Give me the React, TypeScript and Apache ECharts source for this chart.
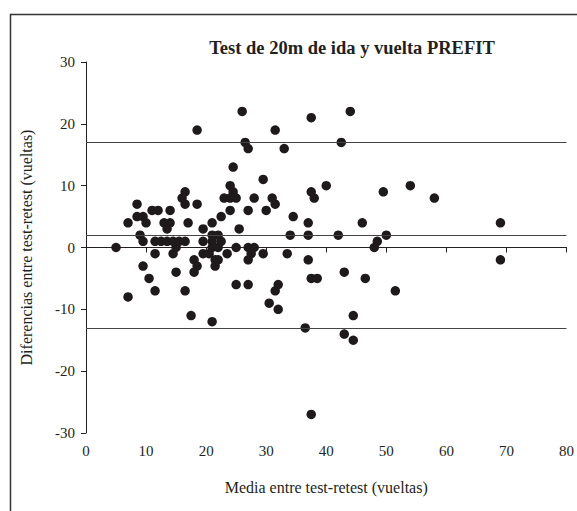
import React, { useEffect, useRef } from "react";
import * as echarts from "echarts";

const titleText = "Test de 20m de ida y vuelta PREFIT";
const xAxisName = "Media entre test-retest (vueltas)";
const yAxisName = "Diferencias entre test-retest (vueltas)";

// mean of test & retest (laps)
const meanValues = [
  5, 7, 7, 8.5, 8.5, 9.5, 10, 9, 9.5, 9.5, 10.5, 11.5, 11, 12, 11.5, 12.5, 13.5, 14.5, 15.5, 16.5,
  11.5, 14.5, 13, 14, 13.5, 14, 15, 15, 16.5, 16.5, 16, 16.5, 17, 18.5, 17.5, 18, 18.5, 18, 18.5,
  19.5, 19.5, 19.5, 20.5, 21, 21, 22, 21, 22.5, 21, 22, 23.5, 21.5, 22, 21.5, 21, 22.5, 23, 24, 25,
  24, 24, 24.5, 24.5, 25.5, 25, 25, 26, 26.5, 27, 27, 27, 28, 27.5, 27, 27, 28, 29.5, 29.5, 30,
  30.5, 31, 31.5, 31.5, 31.5, 32, 32, 33, 33.5, 34, 34.5, 36.5, 37, 37, 37, 37.5, 37.5, 38, 37.5,
  38.5, 37.5, 40, 42, 42.5, 43, 43, 44, 44.5, 44.5, 46, 46.5, 48.5, 48, 49.5, 50, 51.5, 54, 58, 69, 69,
];
// difference retest - test (laps)
const diffValues = [
  0, -8, 4, 7, 5, 5, 4, 2, 1, -3, -5, -7, 6, 6, 1, 1, 1, 1, 1, 1,
  -1, -1, 4, 4, 3, 6, 0, -4, -7, 9, 8, 7, 4, 7, -11, -2, -3, -4, 19,
  3, 1, -1, -1, 4, 2, 2, 1, 1, 0, 0, -1, -2, -2, -3, -12, 5, 8, 8, 8,
  6, 10, 9, 13, 3, 0, -6, 22, 17, 16, 6, 0, 0, -1, -2, -6, 8, 11, -1, 6,
  -9, 8, 7, 19, -7, -6, -10, 16, -1, 2, 5, -13, 4, 2, -2, 21, 9, 8, -5,
  -5, -27, 10, 2, 17, -4, -14, 22, -11, -15, 4, -5, 1, 0, 9, 2, -7, 10, 8, 4, -2,
];
// mean difference and limits of agreement
const limitLines = [17, 2, -13];

const xTicks = { min: 0, max: 80, interval: 10 };
const yTicks = { min: -30, max: 30, interval: 10 };

export default function App() {
  const ref = useRef<HTMLDivElement>(null);
  useEffect(() => {
    if (!ref.current) return;
    const chart = echarts.init(ref.current, null, { renderer: "svg" });
    const serif = "'Liberation Serif', 'Times New Roman', serif";
    const points = meanValues.map((m, i) => [m, diffValues[i]]);
    chart.setOption({
      animation: false,
      backgroundColor: "#ffffff",
      textStyle: { fontFamily: serif },
      title: {
        text: titleText,
        left: 347,
        top: 33,
        textAlign: "center",
        textStyle: { fontFamily: serif, fontSize: 18.5, fontWeight: "bold", color: "#231f20" },
      },
      graphic: [
        {
          type: "rect",
          shape: { x: 10.5, y: 14.5, width: 600, height: 600 },
          style: { fill: "none", stroke: "#333", lineWidth: 1.5 },
          silent: true,
        },
      ],
      grid: { left: 86, right: 8, top: 62, bottom: 78 },
      xAxis: {
        type: "value",
        min: xTicks.min,
        max: xTicks.max,
        interval: xTicks.interval,
        name: xAxisName,
        nameLocation: "middle",
        nameGap: 46,
        nameTextStyle: { fontFamily: serif, fontSize: 16, color: "#231f20" },
        axisLine: { lineStyle: { color: "#231f20", width: 1 } },
        axisTick: { lineStyle: { color: "#231f20" }, length: 5 },
        axisLabel: {
          fontFamily: serif,
          fontSize: 15,
          color: "#231f20",
          margin: 10,
          formatter: (v: number) => String(v),
        },
        splitLine: { show: false },
      },
      yAxis: {
        type: "value",
        min: yTicks.min,
        max: yTicks.max,
        interval: yTicks.interval,
        name: yAxisName,
        nameLocation: "middle",
        nameGap: 52,
        nameTextStyle: { fontFamily: serif, fontSize: 16, color: "#231f20" },
        axisLine: { show: true, lineStyle: { color: "#231f20", width: 1 } },
        axisTick: { show: true, lineStyle: { color: "#231f20" }, length: 5 },
        axisLabel: {
          fontFamily: serif,
          fontSize: 15,
          color: "#231f20",
          margin: 11,
          formatter: (v: number) => String(v),
        },
        splitLine: { show: false },
      },
      series: [
        {
          type: "scatter",
          data: points,
          symbol: "circle",
          symbolSize: 9.5,
          itemStyle: { color: "#1e1a1b", opacity: 1 },
          markLine: {
            silent: true,
            symbol: "none",
            label: { show: false },
            lineStyle: { color: "#444", width: 1, type: "solid" },
            data: limitLines.map((v) => ({ yAxis: v })),
          },
          z: 3,
        },
      ],
    });
    return () => chart.dispose();
  }, []);
  return (
    <div
      ref={ref}
      style={{ position: "fixed", left: 0, top: 0, width: 577, height: 511, background: "#fff" }}
    />
  );
}
